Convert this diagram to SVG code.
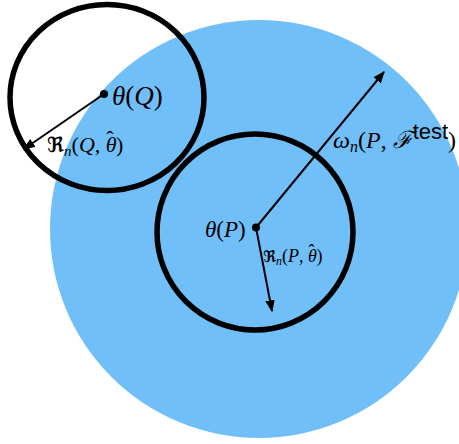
<svg xmlns="http://www.w3.org/2000/svg" width="459" height="444" viewBox="0 0 459 444">
<defs>
<style>
.ring{fill:none;stroke:#000;stroke-width:5.5}
.arr{stroke:#000;stroke-width:2;fill:none}
.m{font-family:"Liberation Serif","DejaVu Serif",serif;fill:#000}
.i{font-style:italic}
.s{font-family:"Liberation Sans",Arial,sans-serif;font-style:normal}
.fr{font-family:"DejaVu Sans",sans-serif;font-weight:bold;font-style:normal}
</style>
<marker id="ahb" viewBox="0 0 10 10" refX="9" refY="5" markerWidth="12" markerHeight="12" markerUnits="userSpaceOnUse" orient="auto">
<path d="M0,1 L10,5 L0,9 z" fill="#000"/>
</marker>
</defs>
<rect width="459" height="444" fill="#fff"/>
<g id="region">
<circle cx="259" cy="229" r="209" fill="#70bff8"/>
</g>
<g id="nodeQ">
<ellipse class="ring" cx="107" cy="97.5" rx="97" ry="93"/>
<circle cx="104" cy="94" r="4" fill="#000"/>
<text class="m" x="112" y="105" font-size="27"><tspan class="i">θ</tspan>(<tspan class="i">Q</tspan>)</text>
</g>
<g id="nodeP">
<circle class="ring" cx="255" cy="232" r="98"/>
<circle cx="256" cy="227.5" r="4" fill="#000"/>
<text class="m" x="205" y="237" font-size="23"><tspan class="i">θ</tspan>(<tspan class="i">P</tspan>)</text>
</g>
<g id="connectors">
<line class="arr" x1="104" y1="94" x2="24" y2="149" marker-end="url(#ahb)"/>
<line class="arr" x1="256" y1="227.5" x2="384" y2="72" marker-end="url(#ahb)"/>
<line class="arr" x1="256" y1="227.5" x2="272" y2="311" marker-end="url(#ahb)"/>
</g>
<g id="labels">
<text class="m" x="47" y="152" font-size="22"><tspan class="fr" font-size="21">ℜ</tspan><tspan class="i" font-size="15" dy="4">n</tspan><tspan dy="-4">(</tspan><tspan class="i">Q</tspan>, <tspan class="i">θ</tspan><tspan dx="-10.5" dy="-6">ˆ</tspan><tspan dx="2.5" dy="6">)</tspan></text>
<text class="m" x="263" y="262" font-size="18"><tspan class="fr" font-size="16">ℜ</tspan><tspan class="i" font-size="12" dy="3">n</tspan><tspan dy="-3">(</tspan><tspan class="i">P</tspan>, <tspan class="i">θ</tspan><tspan dx="-8.5" dy="-5">ˆ</tspan><tspan dx="2" dy="5">)</tspan></text>
<text class="m" x="333" y="148" font-size="24"><tspan class="i">ω</tspan><tspan class="i" font-size="16" dy="4">n</tspan><tspan dy="-4">(</tspan><tspan class="i">P</tspan>, <tspan class="i">ℱ</tspan><tspan class="s" font-size="22" dy="-9">test</tspan><tspan dy="9">)</tspan></text>
</g>
</svg>
